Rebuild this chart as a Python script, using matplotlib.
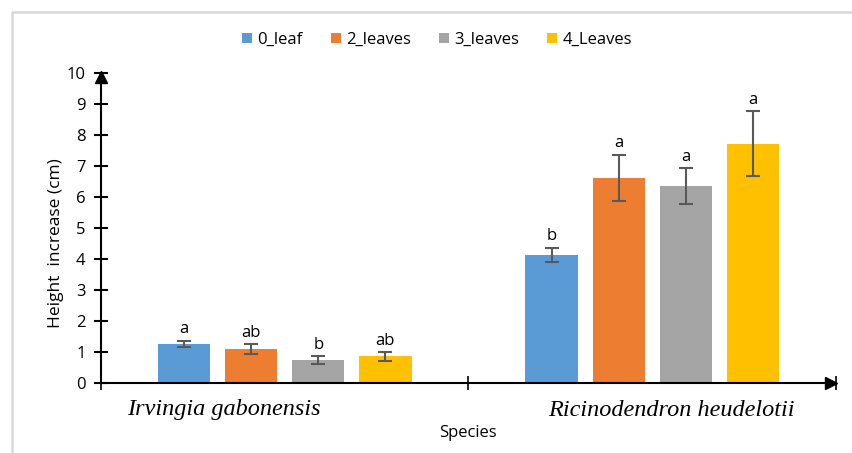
import numpy as np
import matplotlib
matplotlib.use("Agg")
import matplotlib.pyplot as plt
from matplotlib.lines import Line2D
from matplotlib.transforms import offset_copy

species = ["Irvingia gabonensis", "Ricinodendron heudelotii"]
treatments = ["0_leaf", "2_leaves", "3_leaves", "4_Leaves"]
colors = ["#5B9BD5", "#ED7D31", "#A5A5A5", "#FFC000"]

# mean height increase per treatment, one value per species
means = {
    "0_leaf": [1.26, 4.13],
    "2_leaves": [1.10, 6.62],
    "3_leaves": [0.74, 6.35],
    "4_Leaves": [0.86, 7.72],
}
errors = {
    "0_leaf": [0.11, 0.24],
    "2_leaves": [0.15, 0.75],
    "3_leaves": [0.13, 0.59],
    "4_Leaves": [0.14, 1.04],
}
letters = {
    "0_leaf": ["a", "b"],
    "2_leaves": ["ab", "a"],
    "3_leaves": ["b", "a"],
    "4_Leaves": ["ab", "a"],
}

plt.rcParams['font.family'] = ['Open Sans', 'DejaVu Sans']

fig = plt.figure(figsize=(8.53, 4.53), dpi=100)
# light grey frame, only top and left edges visible
fig.lines.append(Line2D([12 / 853, 12 / 853, 1], [0, 1 - 12 / 453, 1 - 12 / 453],
                        transform=fig.transFigure, color="#d9d9d9", linewidth=1.8))
ax = fig.add_axes([101 / 853, 1 - 383 / 453, 735 / 853, 310 / 453])

x = np.arange(len(species)) + 0.5
width = 0.142
step = 0.1826
for i, t in enumerate(treatments):
    xs = x + (i - 1.5) * step
    ax.bar(xs, means[t], width, color=colors[i], label=t, zorder=2)
    ax.errorbar(xs, means[t], yerr=errors[t], fmt="none", ecolor="#595959",
                elinewidth=1.5, capsize=5, capthick=1.5, zorder=3)
    for xi, m, e, lab in zip(xs, means[t], errors[t], letters[t]):
        ax.text(xi, m + e + 0.1, lab, ha="center", va="bottom", fontsize=12)

ax.set_xlim(0, 2)
ax.set_ylim(0, 10)
ax.set_yticks(range(0, 11))
ax.set_xticks([0, 1, 2])
ax.set_xticklabels([])
ax.tick_params(axis="y", direction="inout", length=10, width=1.5, labelsize=12, pad=6)
ax.tick_params(axis="x", direction="inout", length=10, width=1.2)
for s in ["top", "right"]:
    ax.spines[s].set_visible(False)
ax.spines["left"].set_linewidth(1.5)
ax.spines["bottom"].set_linewidth(1.5)
up = offset_copy(ax.transData, fig=fig, x=0, y=-4.5, units="dots")
right = offset_copy(ax.transData, fig=fig, x=-4.5, y=0, units="dots")
ax.plot([0], [10], marker="^", markersize=9, color="black", clip_on=False, zorder=5,
        transform=up)
ax.plot([2], [0], marker=">", markersize=9, color="black", clip_on=False, zorder=5,
        transform=right)

ax.set_ylabel("Height  increase (cm)", fontsize=12.5)
ax.yaxis.set_label_coords(-0.051, 0.45)

fig.text(224 / 853, 1 - 410 / 453, species[0], family="Liberation Serif", style="italic",
         fontsize=17.5, ha="center", va="center")
fig.text(671 / 853, 1 - 410 / 453, species[1], family="Liberation Serif", style="italic",
         fontsize=17.5, ha="center", va="center")
fig.text(468 / 853, 1 - 433 / 453, "Species", fontsize=12, ha="center", va="center")

fig.legend(loc="center", bbox_to_anchor=(437 / 853, 1 - 40 / 453), ncol=4, frameon=False,
           handlelength=0.6, handleheight=0.6, handletextpad=0.3, columnspacing=1.7,
           fontsize=12)

fig.savefig("out.png", dpi=100)
